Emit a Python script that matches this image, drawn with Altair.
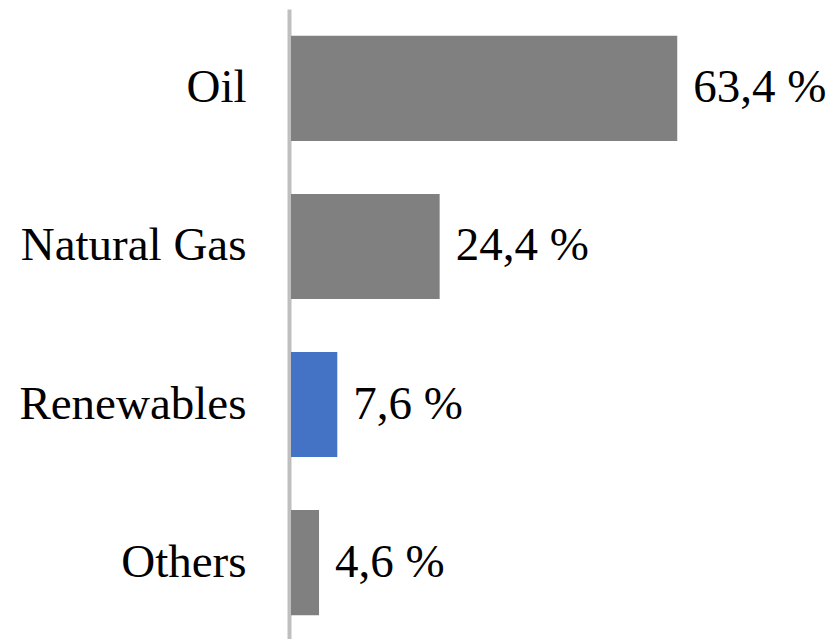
import altair as alt
import pandas as pd

categories = ["Oil", "Natural Gas", "Renewables", "Others"]
values = [63.4, 24.4, 7.6, 4.6]
colors = ["#808080", "#808080", "#4472C4", "#808080"]
labels = [f"{v:.1f}".replace(".", ",") + " %" for v in values]

df = pd.DataFrame({"cat": categories, "val": values, "color": colors, "label": labels})

y_enc = alt.Y(
    "cat:N",
    sort=categories,
    scale=alt.Scale(paddingInner=0.335, paddingOuter=0.17),
    axis=alt.Axis(
        title=None,
        ticks=False,
        grid=False,
        domainColor="#bfbfbf",
        domainWidth=4,
        offset=2,
        labelFont="Liberation Serif",
        labelFontSize=47,
        labelColor="black",
        labelPadding=43,
        labelLimit=400,
    ),
)
x_enc = alt.X("val:Q", scale=alt.Scale(domain=[0, 88.8], nice=False), axis=None)

bars = alt.Chart(df).mark_bar().encode(
    y=y_enc, x=x_enc, color=alt.Color("color:N", scale=None)
)
text = alt.Chart(df).mark_text(
    align="left", baseline="middle", dx=16,
    font="Liberation Serif", fontSize=47, color="black"
).encode(y=alt.Y("cat:N", sort=categories), x=x_enc, text="label:N")

chart = (bars + text).properties(
    width=541, height=633,
    background="white",
    autosize=alt.AutoSizeParams(type="none"),
    padding={"left": 291, "top": 9, "right": 0, "bottom": 0},
).configure_view(stroke=None)

chart.save("out.html", embed_options={"renderer": "svg", "actions": False})
